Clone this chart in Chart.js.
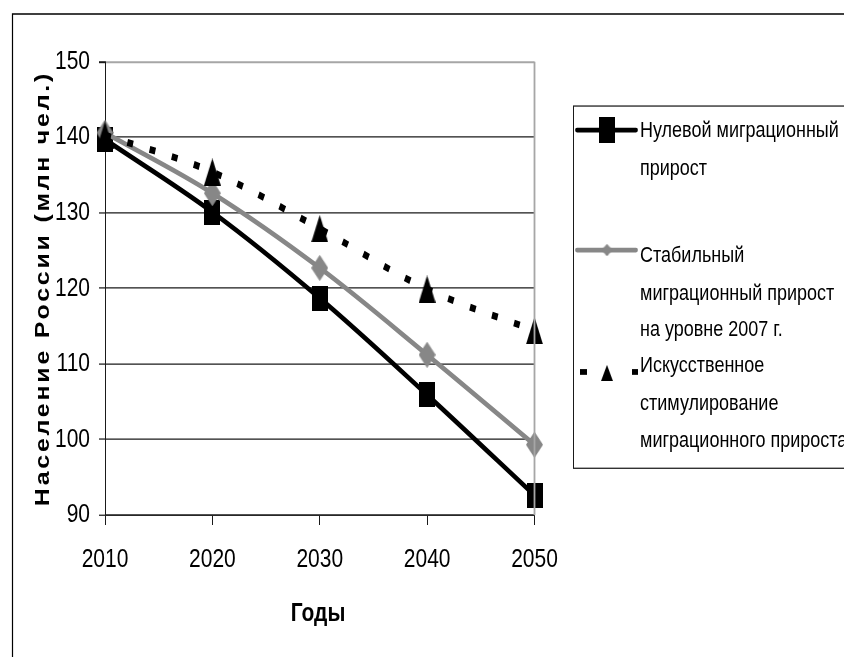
<!DOCTYPE html>
<html>
<head>
<meta charset="utf-8">
<script src="https://cdn.jsdelivr.net/npm/chart.js@4.4.1/dist/chart.umd.min.js"></script>
<style>
html,body{margin:0;padding:0;background:#fff;overflow:hidden}
canvas{display:block}
</style>
</head>
<body>
<canvas id="c" width="844" height="526" style="width:844px;height:657px"></canvas>
<script>
// ---- data ----
const years = ['2010', '2020', '2030', '2040', '2050'];
const zeroMigration = [139.7, 130.1, 118.7, 105.9, 92.6];
const stableMigration = [140.6, 132.6, 122.7, 111.2, 99.3];
const stimulatedMigration = [140.3, 135.4, 127.9, 119.9, 114.4];
const yTickValues = [90, 100, 110, 120, 130, 140, 150];
const legendLines = [
  ['Нулевой миграционный', 'прирост'],
  ['Стабильный', 'миграционный прирост', 'на уровне 2007 г.'],
  ['Искусственное', 'стимулирование', 'миграционного прироста']
];
const xTitle = 'Годы';
const yTitle = 'Население России (млн чел.)';

// ---- styling ----
const NARROW = '"Liberation Sans Narrow","Arial Narrow","Liberation Sans",Arial,sans-serif';
const BLACK = '#000000';
const GRAY = '#878787';

function marker(kind, w, h, color) {
  const c = document.createElement('canvas');
  c.width = w; c.height = h;
  const g = c.getContext('2d');
  g.fillStyle = color;
  g.beginPath();
  if (kind === 'square') {
    g.rect(0, 0, w, h);
  } else if (kind === 'diamond') {
    g.moveTo(w / 2, 0); g.lineTo(w, h / 2); g.lineTo(w / 2, h); g.lineTo(0, h / 2); g.closePath();
  } else {
    g.moveTo(w / 2, 0); g.lineTo(w, h); g.lineTo(0, h); g.closePath();
  }
  g.fill();
  return c;
}

const sqMark = marker('square', 16, 20, BLACK);
const diaMark = marker('diamond', 17, 21, GRAY);
const triMark = marker('triangle', 17, 22, BLACK);
const sqLeg = marker('square', 16, 21, BLACK);
const diaLeg = marker('diamond', 11, 10, GRAY);
const triLeg = marker('triangle', 12, 13, BLACK);

const stretchPlugin = {
  id: 'stretch',
  beforeDraw(chart) {
    const s = chart.canvas.height / chart.height;
    chart.ctx.setTransform(1, 0, 0, s, 0, 0);
  }
};

const decorPlugin = {
  id: 'decor',
  afterDraw(chart) {
    const ctx = chart.ctx;
    const a = chart.chartArea;
    ctx.save();
    // outer frame
    ctx.strokeStyle = '#000';
    ctx.lineWidth = 1.2;
    ctx.beginPath();
    ctx.moveTo(12.5, 700);
    ctx.lineTo(12.5, 11.2);
    ctx.lineTo(900, 11.2);
    ctx.stroke();
    // right plot border (gray)
    ctx.strokeStyle = '#a6a6a6';
    ctx.lineWidth = 1.8;
    ctx.beginPath();
    ctx.moveTo(a.right, a.top);
    ctx.lineTo(a.right, a.bottom);
    ctx.stroke();

    // axis titles
    ctx.fillStyle = '#000';
    ctx.font = 'bold 21px ' + NARROW;
    ctx.textAlign = 'center';
    ctx.textBaseline = 'alphabetic';
    ctx.fillText(xTitle, 318, 497);

    ctx.save();
    ctx.translate(43, 231);
    ctx.rotate(-Math.PI / 2);
    ctx.font = 'bold 20px "Liberation Sans", Arial, sans-serif';
    ctx.letterSpacing = '2.2px';
    ctx.textBaseline = 'middle';
    ctx.fillText(yTitle, 0, 0);
    ctx.restore();

    // legend box
    ctx.strokeStyle = '#1a1a1a';
    ctx.lineWidth = 1;
    ctx.strokeRect(573.5, 84.9, 320, 290);

    // swatches
    ctx.lineCap = 'round';
    ctx.strokeStyle = BLACK;
    ctx.lineWidth = 3.8;
    ctx.beginPath(); ctx.moveTo(577, 104.1); ctx.lineTo(636, 104.1); ctx.stroke();
    ctx.drawImage(sqLeg, 607 - 8, 104.1 - 10.5);

    ctx.strokeStyle = GRAY;
    ctx.beginPath(); ctx.moveTo(577, 200.2); ctx.lineTo(636, 200.2); ctx.stroke();
    ctx.drawImage(diaLeg, 607 - 5.5, 200.2 - 5);

    ctx.fillStyle = BLACK;
    ctx.fillRect(580, 295.5, 7, 4.6);
    ctx.fillRect(632, 295.5, 6, 4.6);
    ctx.drawImage(triLeg, 607 - 6, 298.6 - 6.5);

    // legend texts
    const baselines = [[109.7, 140.1], [209.8, 240.2, 269.0], [297.8, 328.3, 357.9]];
    ctx.font = '18px ' + NARROW;
    ctx.textAlign = 'left';
    ctx.textBaseline = 'alphabetic';
    ctx.fillStyle = '#000';
    legendLines.forEach((lines, i) => {
      lines.forEach((t, j) => ctx.fillText(t, 640, baselines[i][j]));
    });
    ctx.restore();
  }
};

const canvas = document.getElementById('c');
const chart = new Chart(canvas, {
  type: 'line',
  data: {
    labels: years,
    datasets: [
      {
        label: legendLines[0].join(' '),
        data: zeroMigration,
        borderColor: BLACK,
        backgroundColor: BLACK,
        borderWidth: 4,
        tension: 0.35,
        pointStyle: sqMark,
        pointRadius: 8,
        pointHoverRadius: 8,
        clip: false,
        order: 3
      },
      {
        label: legendLines[1].join(' '),
        data: stableMigration,
        borderColor: GRAY,
        backgroundColor: GRAY,
        borderWidth: 4,
        tension: 0.35,
        pointStyle: diaMark,
        pointRadius: 8,
        pointHoverRadius: 8,
        clip: false,
        order: 2
      },
      {
        label: legendLines[2].join(' '),
        data: stimulatedMigration,
        borderColor: BLACK,
        backgroundColor: BLACK,
        borderWidth: 5.5,
        borderDash: [6, 17],
        borderCapStyle: 'butt',
        tension: 0.35,
        pointStyle: triMark,
        pointRadius: 8,
        pointHoverRadius: 8,
        clip: false,
        order: 1
      }
    ]
  },
  options: {
    responsive: false,
    animation: false,
    events: [],
    layout: { padding: { left: 0, top: 49.4, right: 309.5, bottom: 0 } },
    plugins: { legend: { display: false }, tooltip: { enabled: false }, title: { display: false } },
    scales: {
      x: {
        type: 'category',
        offset: false,
        afterFit: s => { s.height = 113.7; },
        grid: { drawOnChartArea: false, drawTicks: true, tickLength: 8, color: '#1a1a1a', lineWidth: 1 },
        border: { color: '#1a1a1a', width: 1 },
        ticks: { font: { family: NARROW, size: 21 }, color: '#000', padding: 15, maxRotation: 0, autoSkip: false }
      },
      y: {
        min: 90,
        max: 150,
        afterBuildTicks: s => { s.ticks = yTickValues.map(v => ({ value: v })); },
        afterFit: s => { s.width = 105; },
        grid: {
          color: c => (c.tick && c.tick.value === 150 ? '#a6a6a6' : '#1a1a1a'),
          lineWidth: c => (c.tick && c.tick.value === 150 ? 1.6 : 1),
          tickColor: '#1a1a1a',
          tickLength: 6,
          drawTicks: true
        },
        border: { color: '#1a1a1a', width: 1 },
        ticks: { font: { family: NARROW, size: 21 }, color: '#000', padding: 9 }
      }
    }
  },
  plugins: [stretchPlugin, decorPlugin]
});

// enlarge the bitmap to the displayed height and redraw with vertical stretch
canvas.height = 657;
chart.draw();
</script>
</body>
</html>
